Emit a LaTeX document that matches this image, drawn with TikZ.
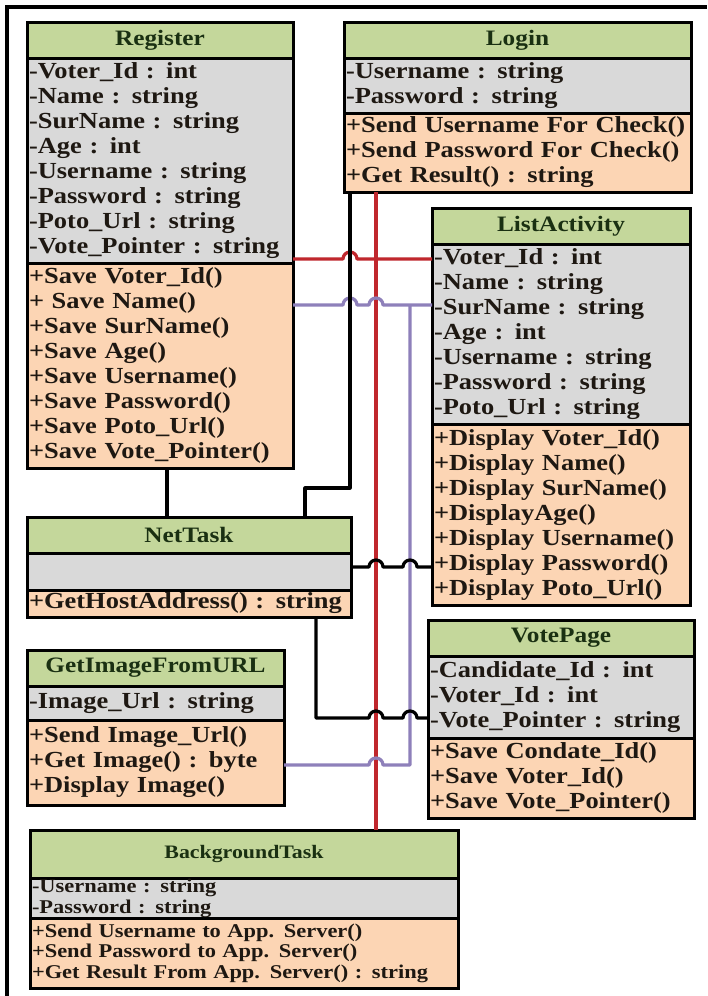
\documentclass[tikz,border=0pt]{standalone}
\usepackage{fontspec}
\usetikzlibrary{calc}
\newfontfamily\umlfont[FakeStretch=1.15,WordSpace=0.8]{Liberation Serif}
\definecolor{hdrgreen}{HTML}{C4D79B}
\definecolor{attrgray}{HTML}{D9D9D9}
\definecolor{methpeach}{HTML}{FCD5B4}
\definecolor{titlecol}{HTML}{1A3012}
\definecolor{rowcol}{HTML}{1E1812}
\definecolor{redc}{HTML}{C0272D}
\definecolor{purc}{HTML}{8E80BA}
\tikzset{
  box/.style={draw=black, line width=3pt, anchor=north west, inner ysep=0pt, inner xsep=2pt, outer sep=0pt},
  hdr/.style={box, fill=hdrgreen, text=titlecol, align=center, font=\umlfont\bfseries\fontsize{22}{25}\selectfont},
  attr/.style={box, fill=attrgray, text=rowcol, align=left, font=\umlfont\bfseries\fontsize{23}{25}\selectfont},
  meth/.style={box, fill=methpeach, text=rowcol, align=left, font=\umlfont\bfseries\fontsize{23}{25}\selectfont},
  conn/.style={line width=3.2pt, line join=round},
  redl/.style={conn, draw=redc},
  purl/.style={conn, draw=purc},
  blkl/.style={conn, draw=black},
}
\begin{document}
\begin{tikzpicture}[x=1pt, y=-1pt]
\useasboundingbox (0,0) rectangle (707,996);
\fill[white] (0,0) rectangle (707,996);
% frame
\draw[line width=3.5pt] (5,7) -- (707,7);
\draw[line width=3.5pt] (7,7) -- (7,996);

% Register
\node[hdr, minimum width=266pt, text width=262pt, minimum height=36pt] (reg-h) at (27,22) {Register};
\node[attr, minimum width=266pt, text width=262pt, minimum height=205pt] (reg-a) at (reg-h.south west) {-Voter\_Id : int\\-Name : string\\-SurName : string\\-Age : int\\-Username : string\\-Password : string\\-Poto\_Url : string\\-Vote\_Pointer : string};
\node[meth, minimum width=266pt, text width=262pt, minimum height=205pt] (reg-m) at (reg-a.south west) {+Save Voter\_Id()\\+ Save Name()\\+Save SurName()\\+Save Age()\\+Save Username()\\+Save Password()\\+Save Poto\_Url()\\+Save Vote\_Pointer()};

% Login
\node[hdr, minimum width=347pt, text width=343pt, minimum height=36pt] (log-h) at (344,22) {Login};
\node[attr, minimum width=347pt, text width=343pt, minimum height=55pt] (log-a) at (log-h.south west) {-Username : string\\-Password : string};
\node[meth, minimum width=347pt, text width=343pt, minimum height=79pt] (log-m) at (log-a.south west) {+Send Username For Check()\\+Send Password For Check()\\+Get Result() : string};

% ListActivity
\node[hdr, minimum width=258pt, text width=254pt, minimum height=36pt] (la-h) at (432,208) {ListActivity};
\node[attr, minimum width=258pt, text width=254pt, minimum height=180pt] (la-a) at (la-h.south west) {-Voter\_Id : int\\-Name : string\\-SurName : string\\-Age : int\\-Username : string\\-Password : string\\-Poto\_Url : string};
\node[meth, minimum width=258pt, text width=254pt, minimum height=181pt] (la-m) at (la-a.south west) {+Display Voter\_Id()\\+Display Name()\\+Display SurName()\\+DisplayAge()\\+Display Username()\\+Display Password()\\+Display Poto\_Url()};

% NetTask
\node[hdr, minimum width=324pt, text width=320pt, minimum height=36pt] (nt-h) at (27,517) {NetTask};
\node[attr, minimum width=324pt, text width=320pt, minimum height=37pt] (nt-a) at (nt-h.south west) {};
\node[meth, minimum width=324pt, text width=320pt, minimum height=27pt] (nt-m) at (nt-a.south west) {+GetHostAddress() : string};

% GetImageFromURL
\node[hdr, minimum width=257pt, text width=253pt, minimum height=36pt] (gi-h) at (27,650) {GetImageFromURL};
\node[attr, minimum width=257pt, text width=253pt, minimum height=34pt] (gi-a) at (gi-h.south west) {-Image\_Url : string};
\node[meth, minimum width=257pt, text width=253pt, minimum height=85pt] (gi-m) at (gi-a.south west) {+Send Image\_Url()\\+Get Image() : byte\\+Display Image()};

% VotePage
\node[hdr, minimum width=266pt, text width=262pt, minimum height=36pt] (vp-h) at (428,620) {VotePage};
\node[attr, minimum width=266pt, text width=262pt, minimum height=82pt] (vp-a) at (vp-h.south west) {-Candidate\_Id : int\\-Voter\_Id : int\\-Vote\_Pointer : string};
\node[meth, minimum width=266pt, text width=262pt, minimum height=80pt] (vp-m) at (vp-a.south west) {+Save Condate\_Id()\\+Save Voter\_Id()\\+Save Vote\_Pointer()};

% BackgroundTask
\node[hdr, minimum width=428pt, text width=424pt, minimum height=48pt, font=\umlfont\bfseries\fontsize{19}{21}\selectfont] (bg-h) at (30,830) {BackgroundTask};
\node[attr, minimum width=428pt, text width=424pt, minimum height=40pt, font=\umlfont\bfseries\fontsize{19.5}{21}\selectfont] (bg-a) at (bg-h.south west) {-Username : string\\-Password : string};
\node[meth, minimum width=428pt, text width=424pt, minimum height=70pt, font=\umlfont\bfseries\fontsize{19.5}{20.5}\selectfont] (bg-m) at (bg-a.south west) {+Send Username to App. Server()\\+Send Password to App. Server()\\+Get Result From App. Server() : string};

% helper coordinates
\coordinate (xR) at (376,0);
\coordinate (xB) at (350,0);
\coordinate (xP) at (410,0);
\coordinate (xL) at (305,0);
\coordinate (xN) at (316,0);
\coordinate (xG) at (167,0);
\coordinate (yR) at (0,259);
\coordinate (yP) at (0,305);
\coordinate (yG) at (0,765);
\coordinate (yN) at (0,567);
\coordinate (yV) at (0,718);
\coordinate (yL) at (0,488);

% red connectors
\draw[redl] (log-m.south -| xR) -- (bg-h.north -| xR);
\draw[redl] (reg-a.east |- yR) -- ($(xB |- yR)+(-7,0)$) arc[start angle=180, end angle=0, radius=7pt] -- (la-a.west |- yR);

% purple connectors
\draw[purl] (reg-m.east |- yP) -- ($(xB |- yP)+(-7,0)$) arc[start angle=180, end angle=0, radius=7pt]
  -- ($(xR |- yP)+(-7,0)$) arc[start angle=180, end angle=0, radius=7pt] -- (la-a.west |- yP);
\draw[purl] (xP |- yP) -- (xP |- yG) -- ($(xR |- yG)+(7,0)$) arc[start angle=0, end angle=180, radius=7pt] -- (gi-m.east |- yG);

% black connectors
\draw[blkl] (reg-m.south -| xG) -- (nt-h.north -| xG);
\draw[blkl] (log-m.south -| xB) -- (xB |- yL) -- (xL |- yL) -- (nt-h.north -| xL);
\draw[blkl] (nt-a.east |- yN) -- ($(xR |- yN)+(-7,0)$) arc[start angle=180, end angle=0, radius=7pt]
  -- ($(xP |- yN)+(-7,0)$) arc[start angle=180, end angle=0, radius=7pt] -- (la-m.west |- yN);
\draw[blkl] (nt-m.south -| xN) -- (xN |- yV) -- ($(xR |- yV)+(-7,0)$) arc[start angle=180, end angle=0, radius=7pt]
  -- ($(xP |- yV)+(-7,0)$) arc[start angle=180, end angle=0, radius=7pt] -- (vp-a.west |- yV);
\end{tikzpicture}
\end{document}
